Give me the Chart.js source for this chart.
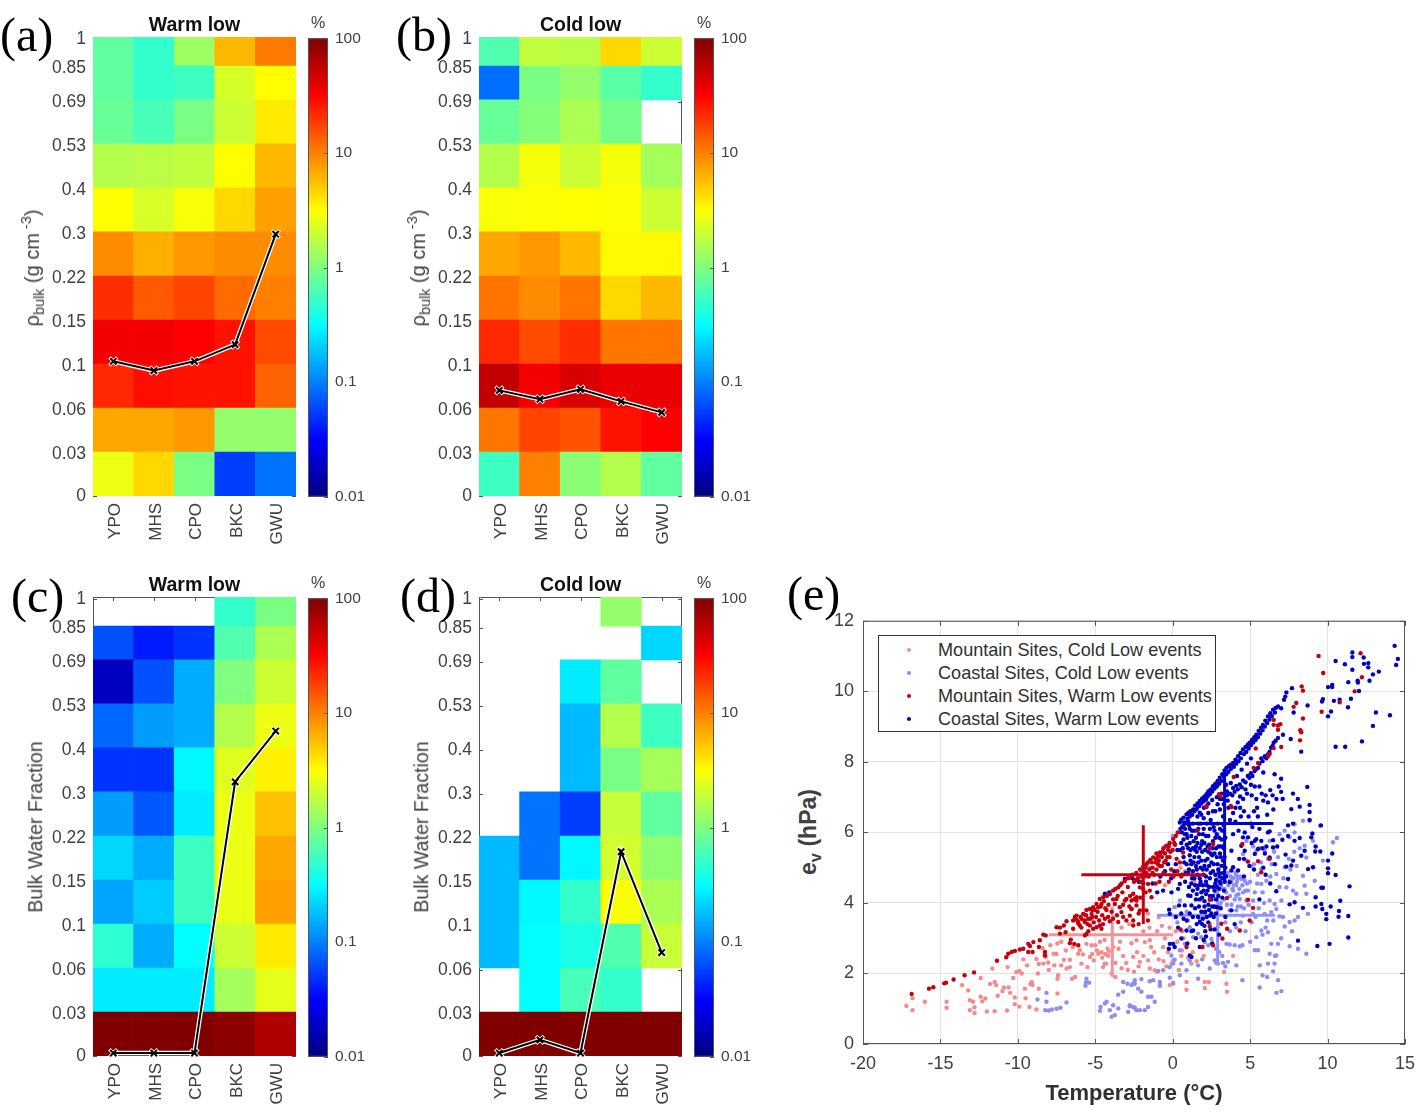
<!DOCTYPE html>
<html>
<head>
<meta charset="utf-8">
<title>Snow density and water fraction</title>
<script src="https://cdn.jsdelivr.net/npm/chart.js@4/dist/chart.umd.min.js"></script>
<style>
  html, body { margin: 0; padding: 0; background: #fff; }
  #page { position: relative; width: 1424px; height: 1112px; overflow: hidden; font-family: "Liberation Sans", sans-serif; color: #404040; }
  #page canvas { position: absolute; }
  .txt { position: absolute; white-space: nowrap; line-height: 1; }
  .panel { font-family: "Liberation Serif", serif; font-size: 48px; color: #000; }
  .rot { transform: translate(-50%, -50%) rotate(-90deg); }
  .txt sub, .txt sup { font-size: 72%; line-height: 0; }
  #legend { position: absolute; left: 878px; top: 635px; width: 336px; height: 95px; background: #fff; border: 1px solid #333; }
  #legend div { position: absolute; left: 59px; font-size: 18.1px; white-space: nowrap; color: #303030; line-height: 1; }
  #legend i { position: absolute; left: 28px; width: 4px; height: 4px; border-radius: 50%; }
</style>
</head>
<body>
<div id="page"></div>
<script>
// ------- categories and tick labels -------
const sites = ["YPO", "MHS", "CPO", "BKC", "GWU"];
const rowLabels = ["0", "0.03", "0.06", "0.1", "0.15", "0.22", "0.3", "0.4", "0.53", "0.69", "0.85", "1"];
const rowValues = [0, 0.03, 0.06, 0.1, 0.15, 0.22, 0.3, 0.4, 0.53, 0.69, 0.85, 1];
// the axis is not linear in the value, each tick sits at its own axis unit
const rowEdges = [0, 1, 2, 3, 4, 5, 6, 7, 8, 9, 9.77, 10.43];
const colorTicks = [0.01, 0.1, 1, 10, 100];
const tempTicks = [-20, -15, -10, -5, 0, 5, 10, 15];
const vaporTicks = [0, 2, 4, 6, 8, 10, 12];

// ------- percent per bin, top row (0.85-1) first, null = empty cell -------
const warmDensity = [
  [0.75, 0.5, 1.3, 6, 10.5],
  [0.75, 0.5, 0.55, 2.2, 3.2],
  [0.8, 0.6, 0.95, 2.0, 3.8],
  [1.6, 1.7, 1.8, 3.2, 6],
  [3.2, 2.2, 3.0, 4.5, 7.5],
  [9, 6.5, 8, 9, 9],
  [21, 14, 17, 12, 10],
  [35, 35, 32, 27, 16],
  [22, 28, 27, 27, 13],
  [7, 7, 8, 1.2, 1.2],
  [2.7, 4.5, 0.95, 0.055, 0.09],
];
const coldDensity = [
  [0.65, 1.8, 1.7, 4.5, 2],
  [0.085, 0.95, 1.2, 0.7, 0.5],
  [0.8, 1.05, 1.5, 0.9, null],
  [1.6, 2.9, 2, 2.9, 1.4],
  [3, 3.1, 3.2, 3.1, 2],
  [7, 8, 6, 3.3, 3.3],
  [11, 9, 11, 4.5, 6],
  [22, 16, 21, 11, 11],
  [55, 35, 45, 38, 38],
  [11, 17, 15, 27, 32],
  [0.55, 10, 1.1, 1.6, 0.75],
];
const warmWater = [
  [null, null, null, 0.5, 0.95],
  [0.065, 0.04, 0.05, 0.65, 1.5],
  [0.018, 0.065, 0.15, 1.0, 2],
  [0.08, 0.13, 0.15, 1.6, 2.7],
  [0.05, 0.05, 0.3, 2.4, 3.6],
  [0.13, 0.07, 0.27, 2.7, 5.5],
  [0.22, 0.15, 0.55, 2.7, 7],
  [0.14, 0.2, 0.55, 2.6, 7.5],
  [0.48, 0.15, 0.32, 2.0, 3.8],
  [0.27, 0.27, 0.27, 1.4, 2.5],
  [100, 100, 100, 90, 65],
];
const coldWater = [
  [null, null, null, 1.2, null],
  [null, null, null, null, 0.22],
  [null, null, 0.27, 0.75, null],
  [null, null, 0.17, 1.6, 0.55],
  [null, null, 0.17, 0.95, 1.4],
  [null, 0.09, 0.055, 1.9, 0.75],
  [0.17, 0.09, 0.3, 2.1, 1.15],
  [0.17, 0.3, 0.5, 3, 1.5],
  [0.17, 0.32, 0.4, 0.65, 1.9],
  [null, 0.32, 0.6, 0.5, null],
  [100, 100, 100, 100, 100],
];

// ------- median line per site -------
const warmDensityMedian = [0.103, 0.094, 0.103, 0.122, 0.296];
const coldDensityMedian = [0.076, 0.068, 0.077, 0.066, 0.057];
const warmWaterMedian = [0.002, 0.002, 0.002, 0.323, 0.45];
const coldWaterMedian = [0.002, 0.011, 0.002, 0.195, 0.074];

// ------- panel (e), [temperature, vapour pressure] -------
const mountainCold = [
  [-17.2,1.08],[-16.8,1.3],[-16.8,0.96],[-16,1.2],[-14.6,1.2],[-14.6,1.03],[-13.6,1.67],[-13.2,1.52],[-13.1,1.24],[-12.9,1.2],
  [-12.8,1.04],[-13.1,0.96],[-12.8,0.88],[-12.4,1.87],[-12.4,1.34],[-12.3,1.21],[-12.1,1.29],[-11.8,1.7],[-11.5,1.76],[-11.4,1.67],
  [-10.9,1.6],[-10.6,1.6],[-11,1.5],[-11.3,1.37],[-10.5,1.45],[-10.2,1.32],[-10.2,1.13],[-9.9,1.06],[-12,0.92],[-11.5,0.93],
  [-10.7,0.95],[-11.65,2.14],[-10.66,2.18],[-10.1,2.04],[-9.9,2.07],[-9.75,2],[-10.3,1.87],[-9.65,2.4],[-9.4,2.23],[-9.55,1.57],
  [-9.2,1.7],[-9.1,1.76],[-9.05,1.67],[-8.65,1.57],[-8.7,2],[-8.65,2.27],[-8.8,2.41],[-9.5,1.3],[-9.25,1.05],[-8.8,0.98],
  [-8.26,2.56],[-8.2,2.47],[-7.7,2.56],[-7.5,2.55],[-8.36,2.28],[-8.04,2.31],[-7.65,2.23],[-7.2,2.23],[-6.86,2.14],[-6.64,2.18],
  [-6.64,2.39],[-7.03,2.39],[-7.4,1.95],[-7.44,1.85],[-7.44,1.43],[-6.5,1.85],[-6.3,1.9],[-6,2.66],[-6.1,2.56],[-5.8,2.54],
  [-5.35,2.47],[-5.57,2.84],[-5.24,2.8],[-4.8,2.56],[-5.1,2.37],[-4.4,2.28],[-4.17,2.5],[-4.5,2.18],[-3.95,2],[-4.3,2.28],
  [-5.9,2.28],[-5.5,2.18],[-7.45,2.85],[-7.2,2.9],[-6.45,2.75],[-2.66,2.86],[-2.34,2.94],[-1.8,2.89],[-1.48,2.94],[-2.55,2.47],
  [-1.9,2.5],[-1.59,2.37],[-2.12,2.33],[-1.16,2.09],[-1.48,2.14],[-0.08,2.28],[0.56,2.5],[0.03,2.37],[1.2,2.28],[-0.62,2.75],
  [0.89,1.76],[0.89,1.54],[2.07,1.76],[2.33,1.76],[2.07,1.59],[3.47,1.71],[3.51,1.48],[3.32,2.04],[-0.83,1.64],[-0.19,1.67],
  [0.03,1.71],[3.9,2.5],[-3.3,3.3],[-2.8,3.4],[-1.5,3.3],[-1,3.2],[-0.5,3],[-2.3,2.6],[-3,2.3],[-3.5,2.7],
  [-4.2,2.7],[-4.6,2.6],[-5,2.8],[-3.7,2.3],[-3.7,1.9],[-3.2,2.5],[-2.9,2.1],[-1.2,2.6],[-0.9,2.4],[-0.3,2.6],
  [0.3,2.9],[0.7,3],[1.3,2.6],[-1.9,3.2],[-0.9,3.6],[-1.6,3.7],[0.5,5],[0.8,4.9],[0.7,5.3],[-0.5,4.5],
  [-0.2,3.3],[0.2,3.2],[-3.4,2.9],[-4.4,2.95],[-6.9,2.65],[-8.4,2.72],[-7.9,2.8],[-8,2.1],[1,3.5],[1.4,4.6],
  [-4.9,2.65],[-4.55,2.45],[-4.35,2.55],[-4.1,2.62],[-3.85,2.75],[-5.2,2.55],[-4.7,2.9],[-3.3,2.15],[-2.5,2.05],[-2.2,2.2],
  [-1,2.05],[-0.6,2.35],[-0.4,2.2],[0.4,2.1],[0.6,2.65],[1,2.45],[1.55,2.35],[2,2.5],[-1.4,2.75],[-0.7,3.35],
];
const coastalCold = [
  [-8.73,1.26],[-8.15,1.45],[-8.23,0.96],[-8,0.95],[-7.8,0.98],[-7.5,1],[-7.25,1.03],[-6.86,1.18],[-5.57,1.85],[-5.6,1.75],
  [-5.4,1.74],[-5.63,1.65],[-8.15,1.2],[-4.7,0.94],[-4.66,1.05],[-4.38,1.15],[-4.27,1.2],[-4.06,0.96],[-3.95,0.77],[-3.74,0.82],
  [-3.52,1.01],[-3.85,1.1],[-3.52,1.4],[-3.2,1.48],[-2.88,0.91],[-2.77,1.07],[-2.45,1.03],[-2.34,0.96],[-3.2,1.76],[-2.92,1.71],
  [-2.66,1.67],[-2.45,1.81],[-2.23,1.57],[-2.45,1.71],[-2.55,1.72],[-2.02,1.48],[-1.59,1.34],[-1.37,1.34],[-1.16,1.2],[-1.59,1.05],
  [-1.8,0.96],[-2.12,0.96],[-2.55,1.05],[-2.77,1.1],[-2.02,1.84],[-1.48,1.78],[-1.26,1.81],[-0.83,1.76],[-0.83,1.67],[-0.19,1.88],
  [0.03,1.73],[0.46,1.95],[1.64,1.85],[0.89,2.09],[-0.62,2.09],[-0.94,2.07],[-0.19,2.18],[0.03,2.28],[0.56,2.28],[1.1,2.37],
  [1.64,2.23],[2.39,2.14],[2.93,2.28],[3.25,2.3],[3.57,2.33],[4.11,2.23],[4.5,1.81],[5.62,1.6],[6.8,1.81],[6.7,1.45],
  [7.02,1.5],[6.48,2.06],[6.58,2.28],[6.26,2.56],[6.69,2.51],[6.8,2.84],[6.37,2.84],[6.15,2.28],[5.62,2.23],[5.51,2.66],
  [5.3,2.66],[5.4,3.03],[5.72,3.22],[6.15,3.17],[6.9,3.62],[7.12,3.6],[7.23,3.33],[7.55,3.46],[8.09,3.6],[7.87,3.5],
  [8.63,2.56],[8.09,2.7],[7.55,2.77],[8.73,3.69],[5.94,3.69],[5.19,3.69],[4.54,3.64],[4.11,3.79],[3.47,2.84],[3.68,2.82],
  [4,2.8],[4.33,2.77],[2.82,2.3],[2.71,2.37],[1.64,3.13],[1.85,3.03],[2.5,2.98],[2.07,2.89],[1.32,3.03],[0.78,2.84],
  [0.46,2.66],[0.13,2.39],[-0.08,2.51],[3.14,4.45],[3.36,4.4],[3.68,4.63],[4.11,4.77],[4.43,4.68],[4.65,4.63],[4.86,4.35],
  [3.9,4.35],[4.11,4.21],[4.33,4.11],[4.76,4.07],[5.19,4.07],[5.72,4.54],[6.05,4.63],[6.26,4.07],[6.58,3.97],[6.69,3.83],
  [6.37,3.74],[3.68,3.79],[3.04,3.88],[2.71,3.88],[1.75,3.55],[1.1,3.31],[0.46,4.07],[0.13,3.88],[4.76,5.2],[4.54,5.39],
  [5.94,5.48],[6.26,5.76],[6.9,5.95],[7.23,6.05],[7.55,5.86],[7.87,6],[7.87,6.23],[8.41,6.33],[8.84,6.33],[9.06,5.76],
  [8.52,5.62],[8.63,5.29],[9.7,5.2],[10.35,5.72],[10.6,5.84],[9.53,6.19],[7.23,5.01],[8.41,4.77],[8.52,4.49],[9.17,4.63],
  [7.34,4.44],[7.77,4.35],[7.98,4.26],[8.63,4.26],[7.02,4.07],[5.72,4.96],[5.4,5.48],[4.76,5.76],[6.69,4.82],[6.15,5.25],
  [3.6,4.5],[3.8,4.6],[3.9,4.7],[4.1,4.5],[4.2,4.7],[4.3,4.4],[4.5,4.5],[3.7,4.2],[4,4.1],[4.4,3.9],
  [5,4.6],[5.3,4.3],[5.5,4.8],[5.8,4.3],[3.3,4.1],[3.1,4],[3,4.6],[2.8,4.3],[-1,5.3],[-0.5,5.6],
  [0,5.9],[-1.5,5],[-2,4.9],[0.3,6],[-0.2,5.7],[2.3,2.8],[2.8,2.7],[3,2.6],[3.2,2.5],[3.4,2.2],
  [1.9,2.4],[4.5,2.8],[5,2.9],[6,3.3],[5.8,3.1],[6.5,3.5],[7,3],[7.7,3.2],[6.1,1.9],[5.8,1.95],
  [6.6,2.5],[3.55,4.85],[3.85,4.4],[4.05,4.85],[4.25,4.25],[4.7,4.35],[5.05,5.05],[5.6,5.55],[6.4,5.1],[7.5,5.25],
  [3.45,4.3],[3.75,4.75],[3.95,4.5],[4.15,4.6],[4.35,4.75],[4.55,4.3],[4.8,4.55],[3.5,3.95],[3.8,3.95],[4.2,3.9],
  [4.6,3.85],[4.9,3.95],[5.1,3.45],[5.35,3.6],[5.55,3.85],[5.9,4],[6.1,3.5],[3.4,3.45],[3.7,3.2],[4.1,3.3],
  [4.4,3.45],[4.7,3.2],[2.9,3.3],[2.4,3.4],[0.9,3.75],[0.3,3.45],[0.6,3.2],[5.2,5.6],[5.7,5.15],[6.55,5.45],
  [7.15,4.7],[6.9,4.45],[7.6,4.95],[8,5.05],[7.85,5.45],[8.2,5.55],[6.8,5.3],[5.25,5.1],[5.45,4.55],[6.3,4.75],
];
const coastalWarm = [
  [14.33,11.29],[14.54,10.92],[14.43,10.75],[11.6,11.1],[11.6,10.97],[10.52,10.86],[11.12,10.77],[12.33,10.96],[12.35,10.78],[12.63,10.8],
  [12.63,10.68],[11.6,10.61],[13.31,10.56],[12.93,10.48],[12.71,10.3],[11.94,10.3],[11.96,10.25],[11.34,10.26],[10.3,10.18],[10.3,10.12],
  [10.03,10.12],[12.03,10.01],[11.51,9.79],[9.7,9.78],[9.64,9.71],[10.41,9.73],[10.78,9.76],[11.32,9.55],[10.22,9.43],[10.03,9.29],
  [13.12,9.4],[14.03,9.32],[12.93,9.02],[12.22,8.58],[10.52,8.43],[11.14,8.43],[8.3,8.29],[7.62,8.65],[8.71,9.6],[7.81,9.4],
  [7.7,10.09],[7.34,9.97],[7.27,9.85],[7.19,9.76],[0.46,6.28],[0.55,6.36],[0.7,6.42],[0.89,6.51],[1.02,6.56],[1.15,6.6],
  [1.32,6.65],[1.45,6.76],[1.6,6.82],[1.75,6.89],[1.9,6.96],[2.05,7.02],[2.18,7.08],[2.3,7.16],[2.45,7.22],[2.6,7.31],
  [2.75,7.38],[2.9,7.46],[3.04,7.55],[3.2,7.65],[3.35,7.76],[3.47,7.83],[3.62,7.88],[3.75,7.92],[3.9,7.97],[4.05,8.06],
  [4.22,8.16],[4.38,8.25],[4.54,8.35],[4.7,8.42],[4.85,8.49],[4.97,8.54],[5.12,8.62],[5.27,8.7],[5.4,8.77],[5.55,8.88],
  [5.7,8.97],[5.83,9.05],[5.98,9.17],[6.15,9.29],[6.3,9.38],[6.48,9.48],[6.65,9.53],[6.8,9.57],[7,9.52],[1.75,6.56],
  [2.02,6.7],[2.3,6.82],[2.55,6.92],[2.85,7],[3.15,7.1],[3.5,7.16],[3.9,7.26],[4.1,7.32],[4.33,7.36],[4.55,7.47],
  [4.85,7.6],[5.05,7.68],[5.29,7.74],[5.51,7.83],[5.72,8.1],[5.95,8.16],[6.15,8.21],[6.35,8.4],[6.52,8.54],[6.8,8.68],
  [7.12,8.77],[5.85,7.7],[6.58,7.65],[7,7.52],[5.6,7.3],[5.75,7.1],[5.85,6.9],[6,7.05],[6.15,6.85],[6.3,7.2],
  [6.45,7.05],[6.7,6.95],[6.85,7.3],[7,7.15],[7.1,6.95],[5.45,6.7],[6.5,6.65],[6.1,6.5],[5.5,6.45],[5.25,6.6],
  [7.77,7.1],[8.69,7.29],[8.08,6.95],[8.84,6.78],[4.8,7.1],[4.55,6.95],[3.85,7.05],[4.2,6.85],[3.6,6.7],[3.9,6.55],
  [11.42,4.47],[10.82,4.06],[11.34,3.63],[11.34,3.02],[10.74,3.77],[10.71,3.61],[10.2,3.9],[10.52,4.79],[10.03,4.84],[10.03,4.98],
  [10.03,5.2],[10.3,5.4],[9.53,5.46],[9.57,6.2],[9.23,5.6],[9.2,5.46],[9.06,5.01],[8.74,4.96],[9.7,4.43],[9.6,4.43],
  [9.23,4.16],[9.23,3.9],[9.6,3.97],[9.66,3.83],[9.92,3.69],[9.92,3.54],[8.41,3.86],[10.13,2.84],[9.34,2.78],[8.09,2.93],
  [7.87,4.02],[7.55,3.96],[7.45,4.68],[7.66,5.06],[7.77,5.2],[7.29,5.37],[7.34,5.03],[8.3,5.34],[8.52,5.48],[8.95,5.86],
  [9.02,5.97],[8.2,5.84],[7.87,5.76],[7.45,5.9],[7.08,5.79],[7.77,6.25],[7.45,6.2],[8.2,6.73],[8.84,6.58],[8.84,6.35],
  [7.66,6.66],[6.69,4.33],[6.48,5.57],[6.26,5.29],[6.48,5.78],[6.15,6],[6.26,6.03],[5.4,5.81],[5.72,5.76],[5.3,5.76],
  [5.51,5.53],[5.3,5.39],[4.65,6],[4.86,5.86],[4.54,5.86],[4.43,5.62],[4.65,5.48],[3.9,5.95],[3.79,5.48],[4.22,4.92],
  [3.79,4.92],[3.9,5.01],[3.68,4.59],[3.36,4.6],[3.04,4.75],[3.79,3.79],[2.86,3.88],[2.43,3.64],[2.07,3.74],[1.64,3.6],
  [1.75,3.46],[1.32,3.22],[1.21,3.2],[0.89,3.22],[0.56,2.99],[0.03,2.84],[0.13,2.75],[-0.19,2.84],[-0.25,2.7],[1.1,2.51],
  [1.21,2.47],[-0.19,3.69],[-0.23,3.81],[0.41,3.93],[0.78,3.93],[1.21,3.93],[-0.62,4.35],[-0.08,4.3],[0.46,4.54],[1,4.21],
  [0.5,6.1],[0.6,6],[0.7,6.2],[0.8,6.1],[0.9,5.95],[1,6.3],[1.1,6.1],[1.2,5.9],[1.3,6.25],[1.4,6.05],
  [1.5,5.85],[0.7,5.8],[0.9,5.65],[1.1,5.7],[1.3,5.55],[1.5,5.6],[1.7,5.95],[1.8,6.25],[1.9,5.75],[2,6.1],
  [2.1,5.5],[2.2,6.25],[2.3,5.9],[2.5,6.25],[2.6,5.75],[2.7,6.05],[2.8,5.55],[2.9,6.25],[3,5.85],[3.1,5.6],
  [3.2,6.05],[0.5,5.5],[0.7,5.3],[0.9,5.1],[1.1,5.35],[1.2,5.1],[1.3,4.9],[1.4,5.3],[1.5,5.05],[1.6,4.8],
  [1.7,5.3],[1.8,5],[1.9,5.45],[2,4.8],[2.1,5.2],[2.2,4.95],[2.3,5.45],[2.4,4.7],[2.5,5.15],[2.6,4.9],
  [2.7,5.4],[2.8,4.65],[2.9,5.1],[3,4.85],[3.1,5.3],[3.2,4.7],[3.3,5.55],[3.4,5],[0.6,4.8],[0.8,4.6],
  [1,4.85],[1.2,4.55],[1.4,4.7],[1.6,4.4],[1.8,4.6],[2,4.35],[2.2,4.5],[2.4,4.2],[2.6,4.45],[2.8,4.1],
  [3,4.4],[3.2,4.15],[1.5,4.1],[1.7,3.9],[1.9,4.15],[2.1,3.75],[2.3,3.95],[2.5,3.7],[2.7,3.9],[1.9,3.4],
  [2.1,3.2],[2.3,3.45],[2,2.95],[-3.09,4.68],[-2.8,4.72],[-4.38,4.26],[-4.1,4.3],[-1,4.3],[-0.8,4.75],[-0.5,4.9],
  [-0.3,5.1],[-1.3,4.55],[-2.2,4.6],[-1.9,4.55],[-2.6,4.7],[-0.1,4.7],[0.2,5.1],[0.3,5.5],[0.1,4.9],[0.35,4.4],
  [2.55,5.55],[2.85,5.95],[1.65,6.1],[1.15,5.5],[1.85,5.65],[2.35,5.65],[3.05,6.1],[1.05,4.95],[1.55,5.45],[2.15,4.6],
  [2.75,4.55],[3.25,5.2],[3.45,4.75],[4.25,6.05],[4.95,5.05],[5.25,4.95],[5.85,5],[5.95,5.4],[6.3,4.55],[4.6,5.25],
  // upper edge is two thick bands of dots
  [0.6,6.15],[0.75,6.28],[0.95,6.38],[1.1,6.45],[1.25,6.5],[1.4,6.6],[1.55,6.66],[1.7,6.74],[1.85,6.82],[2,6.88],
  [2.15,6.93],[2.25,7.02],[2.4,7.08],[2.55,7.16],[2.7,7.24],[2.85,7.3],[3,7.38],[3.15,7.46],[3.3,7.58],[3.45,7.65],
  [3.6,7.72],[3.75,7.8],[3.95,7.86],[4.1,7.95],[4.25,8.02],[4.4,8.1],[4.6,8.22],[4.75,8.28],[4.9,8.38],[5.05,8.47],
  [5.2,8.55],[5.35,8.62],[5.5,8.7],[5.65,8.8],[5.8,8.9],[5.95,9],[6.1,9.1],[6.25,9.2],[6.4,9.3],[6.6,9.4],
  [2,6.4],[2.3,6.55],[2.6,6.6],[2.9,6.8],[3.2,6.95],[3.5,7.05],[3.7,7.1],[4,7.15],[4.2,7.22],[4.45,7.28],
  [4.7,7.42],[4.95,7.55],[5.15,7.6],[5.4,7.8],[5.6,7.95],[5.8,8.02],[6.05,8.1],[6.25,8.28],[6.45,8.45],[6.65,8.6],
  [1.6,6.45],[1.85,6.5],[2.45,6.35],[2.75,6.6],[3.05,6.65],[3.25,6.45],[3.55,6.9],[4.35,6.7],[4.6,6.6],[3,7],
  // dense middle of the warm low cloud
  [0.55,5.7],[0.65,5.55],[0.8,5.95],[0.95,5.85],[1.05,6.2],[1.25,6.05],[1.35,5.75],[1.45,5.5],[1.6,5.7],[1.65,6.25],
  [1.75,5.55],[1.95,5.95],[2.05,5.7],[2.15,5.9],[2.25,5.6],[2.4,6.1],[2.45,5.4],[2.65,6.15],[2.75,5.85],[2.95,5.6],
  [3.05,5.4],[3.15,5.8],[3.25,5.6],[3.4,5.85],[3.3,6.2],[0.75,5.15],[0.85,4.85],[1,5.55],[1.15,5.2],[1.25,4.7],
  [1.35,5.15],[1.55,4.95],[1.65,5.15],[1.75,4.7],[1.85,5.2],[1.95,4.95],[2.05,5.05],[2.15,4.75],[2.25,5.25],[2.35,5.05],
  [2.45,4.85],[2.55,5.35],[2.65,5.1],[2.75,4.8],[2.85,5.3],[2.95,4.95],[3.05,4.6],[3.15,5.05],[3.25,4.85],[3.35,5.3],
  [1.05,4.45],[1.15,4.2],[1.3,4.35],[1.45,4.5],[1.55,4.25],[1.7,4.5],[1.85,4.3],[1.95,4.5],[2.05,4.05],[2.15,4.25],
  [2.25,4.35],[2.35,4.45],[2.5,4.1],[2.6,4.2],[2.7,4.35],[2.85,4.45],[2.95,4.2],[3.1,4.55],[3.3,4.35],[1.75,4.1],
  [1.85,3.75],[1.95,3.55],[2.05,3.9],[2.2,3.6],[2.35,3.8],[2.55,3.9],[2.65,3.6],[2.05,3.35],[2.15,3.05],[2.45,3.25],
  [1.3,3.6],[0.9,3.5],[0.35,3.3],[2.8,3.7],[3.1,3.85],[3.4,3.6],[4,3.4],[4.6,4.75],[5.6,4.1],[4.3,5.25],
  [5.1,5.7],[5.6,6.1],[5.8,5.55],[6.05,5.6],[6,4.8],[6.6,5.1],[6.75,5.6],[5.05,6.25],[4.9,6.45],[5.15,6.15],
  [4.35,7.02],[4.7,7.22],[5.05,7.35],[5.3,7.3],[5.1,7.05],[5.4,6.95],[3.75,7.4],[4.15,7.6],[4.45,7.78],[4.8,7.95],
  [5.05,8.1],[3.45,7.35],[3.05,6.95],[3.3,6.8],[4.05,6.7],[3.7,6.35],[4.05,6.3],[4.4,6.45],[0.7,3.55],[1.55,3.4],
  [0.95,2.85],[1.5,3],[1.75,2.75],[2.55,2.85],[2.7,3.25],[3,3.1],[1.1,3.7],[1.45,3.85],[0.2,3.6],[0.55,3.7],
];
const mountainWarm = [
  [-16.86,1.42],[-15.74,1.57],[-15.46,1.61],[-14.75,1.72],[-14.64,1.74],[-14.15,1.83],[-13.44,1.95],[-12.83,2.03],[-11.35,2.36],[-10.75,2.46],
  [-10.62,2.56],[-10.4,2.61],[-10.19,2.64],[-9.87,2.68],[-9.65,2.7],[-9.33,2.61],[-9.05,2.61],[-9.33,2.84],[-9,2.89],[-9.22,2.78],
  [-8.64,2.75],[-8.58,2.94],[-8.36,3.1],[-8.2,3.08],[-7.5,3.31],[-7.28,3.3],[-7.03,3.36],[-6.86,3.48],[-7.28,3.13],[-6.92,3.17],
  [-6.43,3.27],[-6.58,2.96],[-6.36,2.84],[-6.1,2.8],[-6.64,2.86],[-8.25,2.51],[-8.25,2.61],[-5.67,3.08],[-5.57,3.12],[-6.32,3.6],
  [-6.21,3.64],[-6.43,3.5],[-6.1,3.46],[-5.89,3.55],[-6,3.36],[-5.78,3.69],[-5.57,3.8],[-5.35,3.83],[-5.14,3.88],[-4.92,3.97],
  [-4.71,4.11],[-4.49,4.16],[-5.67,3.46],[-5.46,3.55],[-5.24,3.69],[-5.03,3.8],[-4.81,3.88],[-4.6,3.97],[-5.35,3.36],[-5.14,3.27],
  [-4.92,3.31],[-4.71,3.36],[-4.38,3.55],[-4.17,3.6],[-4.06,3.48],[-4.28,3.8],[-4.6,3.27],[-3.85,4.35],[-3.52,4.44],[-3.63,4.11],
  [-3.74,3.97],[-3.42,3.88],[-3.31,3.74],[-3.09,4.07],[-2.99,4.11],[-3.52,3.46],[-2.99,3.5],[-2.77,3.64],[-2.66,3.83],[-2.34,4.16],
  [-2.34,3.93],[-2.2,3.7],[-2.55,3.36],[-3.3,4.55],[-3.1,4.62],[-2.9,4.7],[-2.77,4.73],[-2.6,4.8],[-2.35,4.85],[-2.1,4.95],
  [-1.9,5.03],[-1.7,5.1],[-1.45,5.22],[-1.26,5.29],[-1.05,5.4],[-0.83,5.43],[-0.6,5.55],[-0.4,5.62],[-0.2,5.7],[0.03,5.81],
  [0.2,5.9],[0.35,6],[-2.55,4.26],[-2.45,4.11],[-2.12,4.44],[-1.91,4.4],[-1.59,4.54],[-1.48,4.35],[-2.66,4.07],[-2.34,4.07],
  [-2.12,3.79],[-2.66,3.83],[-1.37,4.16],[-2.55,3.5],[-1.7,3.79],[-2,4.75],[-1.7,4.85],[-1.5,4.95],[-1.3,5],[-1.1,5.15],
  [-0.9,5.2],[-0.7,5.3],[-0.5,5.4],[-0.3,5.5],[-1.1,5.25],[-0.8,5.35],[-0.95,5.1],[-1.2,4.8],[-0.7,5.05],[-0.45,5.2],
  [-0.6,4.85],[-0.2,5.3],[0,5.5],[0.15,5.65],[-1.6,5.15],[-1.85,4.9],[-2.25,4.7],[-2.5,4.6],[0.3,4.9],[0.55,4.75],
  [-0.1,4.95],[0.25,5.25],[3.79,6.72],[2.18,6.75],[4.86,5.17],[5.51,5.18],[5.72,4.87],[6.26,5.25],[4.5,5.67],[2.39,4.09],
  [3.51,4.14],[4.86,4.09],[5.19,3.86],[4.97,3.5],[3.14,3.41],[3.51,3.27],[4.33,3.22],[2.39,3.33],[0.5,3.25],[3.21,2.99],
  [2.61,2.8],[1.92,2.75],[0.89,2.75],[0.46,5.15],[0.67,5.43],[2.61,5.67],[2.4,5.55],[9.42,11],[12.13,11.08],[9.72,10.52],
  [12.22,10.4],[11.75,10],[8.33,10.14],[8.41,10.02],[10.78,9.69],[9.62,9.42],[7.98,9.67],[7.81,9.56],[8.41,9.23],[8.24,8.9],
  [8.3,8.84],[8.22,8.61],[6.8,9.03],[6.95,9.07],[6.52,9.19],[6.52,9.05],[6.8,8.91],[7.01,8.42],[6.52,8.39],[6.26,8.22],
  [6.15,8.16],[5.36,8.38],[5.51,7.97],[5.23,7.83],[3.94,7.57],[2.99,7.08],[3.08,7.03],[3.75,6.75],[2.18,6.72],[1.6,6.05],
  // blob at the low end of the saturation edge
  [-6.1,3.42],[-5.95,3.6],[-5.7,3.5],[-5.6,3.65],[-5.5,3.4],[-5.3,3.55],[-5.2,3.8],[-5.1,3.45],[-4.95,3.6],[-4.85,3.75],
  [-4.75,3.5],[-4.65,3.9],[-4.55,3.65],[-4.45,4.05],[-4.35,3.85],[-4.25,4.2],[-4.15,3.95],[-4.05,4.25],[-3.95,3.75],[-3.85,4.1],
  [-3.7,4.4],[-3.55,4.2],[-3.4,4.5],[-3.25,4.3],[-3.2,3.95],[-2.9,4.45],[-2.75,4.2],[-3.2,3.6],[-2.8,3.9],[-6.2,3.52],
  [-5.9,3.3],[-5.45,3.2],[-5.2,3.6],[-4.5,3.4],[-3.6,3.65],[-3.85,3.55],[-2.4,4.65],[-2.05,4.6],[-1.8,4.75],[-1.55,4.75],
  [-1.3,4.85],[-1.05,4.95],[-0.85,5.05],[-0.55,5.15],[-0.35,5.3],[-0.15,5.45],[-1.75,5],[-1.35,5.15],[-0.95,5.3],[-0.65,5.45],
  [-0.25,5.6],[0.1,5.7],[-1.1,4.55],[-0.85,4.6],[-0.25,4.6],[0.05,4.75],[-2.1,4.15],[-1.75,4.3],[-2.2,3.4],[-1.6,3.5],
];

// mean and spread crosses [mean T, low T, high T, mean e, low e, high e]
const crossMountainCold = [-3.9, -8, 0, 3.1, 1.9, 3.9];
const crossCoastalCold = [2.9, -1, 6.6, 3.65, 2.25, 5];
const crossMountainWarm = [-1.9, -5.9, 2.1, 4.8, 3.4, 6.2];
const crossCoastalWarm = [3.35, 0.8, 6.5, 6.25, 4.6, 7.8];

const legendLabels = ["Mountain Sites, Cold Low events", "Coastal Sites, Cold Low events", "Mountain Sites, Warm Low events", "Coastal Sites, Warm Low events"];
const seriesColors = ["#f58a8c", "#8c8cf2", "#c4000c", "#0000c0"];

const grayText = "#404040";
const page = document.getElementById("page");

// ------- jet colormap on the log10 range 0.01 - 100 -------
function jetAt(t) {
  const part = (c) => Math.round(255 * Math.min(1, Math.max(0, 1.5 - Math.abs(4 * t - c))));
  return `rgb(${part(3)},${part(2)},${part(1)})`;
}
function percentColor(v) {
  return v === null ? "rgba(0,0,0,0)" : jetAt((Math.log10(v) + 2) / 4);
}

// bin value -> axis unit
function toAxis(v) {
  for (let i = 0; i < rowValues.length - 1; i++) {
    if (v <= rowValues[i + 1]) {
      return rowEdges[i] + ((v - rowValues[i]) / (rowValues[i + 1] - rowValues[i])) * (rowEdges[i + 1] - rowEdges[i]);
    }
  }
  return rowEdges[rowEdges.length - 1];
}

function addCanvas(left, top, width, height) {
  const c = document.createElement("canvas");
  c.width = width;
  c.height = height;
  c.style.left = left + "px";
  c.style.top = top + "px";
  c.style.width = width + "px";
  c.style.height = height + "px";
  page.appendChild(c);
  return c;
}

function addText(html, cls, left, top, size, extra) {
  const d = document.createElement("div");
  d.className = "txt " + cls;
  d.innerHTML = html;
  d.style.left = left + "px";
  d.style.top = top + "px";
  if (size) d.style.fontSize = size + "px";
  if (extra) d.style.cssText += extra;
  page.appendChild(d);
}

function drawFrame(chart, tickLen, sides) {
  const { ctx, chartArea: a, scales } = chart;
  ctx.save();
  ctx.strokeStyle = "#555";
  ctx.lineWidth = 1;
  ctx.strokeRect(a.left + 0.5, a.top + 0.5, a.right - a.left - 1, a.bottom - a.top - 1);
  ctx.beginPath();
  if (sides.includes("x")) {
    scales.x.ticks.forEach((t, i) => {
      const px = Math.round(scales.x.getPixelForTick(i)) + 0.5;
      ctx.moveTo(px, a.top);
      ctx.lineTo(px, a.top + tickLen);
      ctx.moveTo(px, a.bottom);
      ctx.lineTo(px, a.bottom - tickLen);
    });
  }
  if (sides.includes("y")) {
    scales.y.ticks.forEach((t, i) => {
      const py = Math.round(scales.y.getPixelForTick(i)) + 0.5;
      ctx.moveTo(a.right, py);
      ctx.lineTo(a.right - tickLen, py);
      if (sides.includes("l")) {
        ctx.moveTo(a.left, py);
        ctx.lineTo(a.left + tickLen, py);
      }
    });
  }
  ctx.stroke();
  ctx.restore();
}

const frameUnder = { id: "frameUnder", beforeDatasetsDraw: (chart) => drawFrame(chart, 4, "xyl") };
const frameOver = { id: "frameOver", afterDatasetsDraw: (chart) => drawFrame(chart, 4, "y") };

// ------- one heatmap panel + its colorbar -------
function heatPanel(dx, dy, titleText, grid, medians) {
  const rows = grid.slice().reverse();
  const datasets = rows.map((vals, r) => ({
    data: vals.map((v) => (v === null ? null : [rowEdges[r], rowEdges[r + 1]])),
    backgroundColor: vals.map(percentColor),
    borderWidth: 0,
    barPercentage: 1,
    categoryPercentage: 1,
    order: 3,
  }));
  const medianPos = medians.map(toAxis);
  datasets.push({
    type: "line", data: medianPos, borderColor: "#fff", borderWidth: 4.5,
    pointStyle: "crossRot", pointRadius: 5.5, pointBorderColor: "#fff", pointBorderWidth: 3.5,
    pointBackgroundColor: "#fff", tension: 0, order: 2, clip: false,
  });
  datasets.push({
    type: "line", data: medianPos, borderColor: "#000", borderWidth: 2,
    pointStyle: "crossRot", pointRadius: 4.5, pointBorderColor: "#000", pointBorderWidth: 2,
    tension: 0, order: 1, clip: false,
  });

  new Chart(addCanvas(40 + dx, 9 + dy, 309, 547), {
    type: "bar",
    data: { labels: sites, datasets },
    options: {
      responsive: false,
      animation: false,
      layout: { padding: { left: 0, right: 53, top: 0, bottom: 0 } },
      plugins: {
        legend: { display: false },
        tooltip: { enabled: false },
        title: {
          display: true, text: titleText, color: "#111", fullSize: false,
          font: { family: "Liberation Sans", size: 19.5, weight: "bold", lineHeight: 1 },
          padding: { top: 6.5, bottom: 2 },
        },
      },
      scales: {
        x: {
          stacked: true,
          grid: { display: false, drawTicks: false },
          border: { display: false },
          ticks: { minRotation: 90, maxRotation: 90, padding: 7, labelOffset: 2, color: grayText, font: { family: "Liberation Sans", size: 17 } },
          afterFit: (s) => { s.height = 60; },
        },
        y: {
          min: 0,
          max: rowEdges[rowEdges.length - 1],
          grid: { display: false, drawTicks: false },
          border: { display: false },
          // labels sit about 2px under the cell edge in the original
          afterBuildTicks: (s) => { s.ticks = rowEdges.map((v) => ({ value: v > 0 ? v - 0.045 : 0 })); },
          ticks: { autoSkip: false, padding: 7, color: grayText, font: { family: "Liberation Sans", size: 17.5 }, callback: (v, i) => rowLabels[i] },
          afterFit: (s) => { s.width = 53; },
        },
      },
    },
    plugins: [frameUnder],
  });

  // colorbar
  new Chart(addCanvas(300 + dx, 22 + dy, 84, 491), {
    type: "bar",
    data: {
      labels: [""],
      datasets: [{
        data: [[colorTicks[0], colorTicks[colorTicks.length - 1]]],
        barPercentage: 1,
        categoryPercentage: 1,
        borderWidth: 0,
        backgroundColor: (c) => {
          const a = c.chart.chartArea;
          if (!a) return "#fff";
          const g = c.chart.ctx.createLinearGradient(0, a.bottom, 0, a.top);
          for (let i = 0; i <= 40; i++) g.addColorStop(i / 40, jetAt(i / 40));
          return g;
        },
      }],
    },
    options: {
      responsive: false,
      animation: false,
      layout: { padding: { left: 8, right: 0, top: 12, bottom: 14 } },
      plugins: { legend: { display: false }, tooltip: { enabled: false }, title: { display: false } },
      scales: {
        x: { display: false },
        y: {
          type: "logarithmic",
          position: "right",
          min: colorTicks[0],
          max: colorTicks[colorTicks.length - 1],
          grid: { display: false, drawTicks: false },
          border: { display: false },
          afterBuildTicks: (s) => { s.ticks = colorTicks.map((v) => ({ value: v })); },
          ticks: { autoSkip: false, padding: 7, color: grayText, font: { family: "Liberation Sans", size: 15.5 }, callback: (v) => String(v) },
          afterFit: (s) => { s.width = 56; },
        },
      },
    },
    plugins: [frameOver],
  });

  addText("%", "", 311 + dx, 15 + dy, 16);
}

heatPanel(0, 0, "Warm low", warmDensity, warmDensityMedian);
heatPanel(386, 0, "Cold low", coldDensity, coldDensityMedian);
heatPanel(0, 560, "Warm low", warmWater, warmWaterMedian);
heatPanel(386, 560, "Cold low", coldWater, coldWaterMedian);

// ------- axis labels that need sub/superscript are plain html -------
const rhoLabel = "&rho;<sub>bulk</sub> (g cm<sup> -3</sup>)";
addText(rhoLabel, "rot", 32, 268, 20);
addText(rhoLabel, "rot", 418, 268, 20);
addText("Bulk Water Fraction", "rot", 36, 827, 19.6);
addText("Bulk Water Fraction", "rot", 422, 827, 19.6);
addText("e<sub>v</sub> (hPa)", "rot", 808, 832, 23, "font-weight:bold;");

addText("(a)", "panel", 0, 11);
addText("(b)", "panel", 396, 11);
addText("(c)", "panel", 11, 572);
addText("(d)", "panel", 400, 572);
addText("(e)", "panel", 787, 570);

// ------- panel (e) -------
function crossArms(cross, color, order) {
  const [mx, x0, x1, my, y0, y1] = cross;
  const arm = (data) => ({ data, showLine: true, borderColor: color, borderWidth: 3, pointRadius: 0, order });
  return [arm([[x0, my], [x1, my]]), arm([[mx, y0], [mx, y1]])];
}
function dots(data, color, order) {
  return { data, backgroundColor: color, borderWidth: 0, pointRadius: 2.2, order };
}

new Chart(addCanvas(800, 601, 624, 511), {
  type: "scatter",
  data: {
    datasets: [
      dots(mountainCold, seriesColors[0], 8),
      ...crossArms(crossMountainCold, "#f89196", 7),
      dots(coastalCold, seriesColors[1], 6),
      ...crossArms(crossCoastalCold, "#9393f6", 5),
      dots(coastalWarm, seriesColors[3], 4),
      ...crossArms(crossCoastalWarm, "#0000c8", 3),
      dots(mountainWarm, seriesColors[2], 2),
      ...crossArms(crossMountainWarm, "#c4000c", 1),
    ],
  },
  options: {
    responsive: false,
    animation: false,
    layout: { padding: { left: 0, right: 18.5, top: 12, bottom: 0 } },
    plugins: { legend: { display: false }, tooltip: { enabled: false }, title: { display: false } },
    scales: {
      x: {
        type: "linear",
        min: tempTicks[0],
        max: tempTicks[tempTicks.length - 1],
        grid: { color: "#e4e4e4", drawTicks: false },
        border: { display: false },
        afterBuildTicks: (s) => { s.ticks = tempTicks.map((v) => ({ value: v })); },
        ticks: { padding: 9, color: grayText, font: { family: "Liberation Sans", size: 18 } },
        title: {
          display: true, text: "Temperature (°C)", color: "#303030",
          font: { family: "Liberation Sans", size: 22, weight: "bold" },
          padding: { top: 0, bottom: 5 },
        },
        afterFit: (s) => { s.height = 68; },
      },
      y: {
        min: vaporTicks[0],
        max: vaporTicks[vaporTicks.length - 1],
        grid: { color: "#e4e4e4", drawTicks: false },
        border: { display: false },
        afterBuildTicks: (s) => { s.ticks = vaporTicks.map((v) => ({ value: v })); },
        ticks: { padding: 9, color: grayText, font: { family: "Liberation Sans", size: 18 } },
        afterFit: (s) => { s.width = 63; },
      },
    },
  },
  plugins: [{ id: "frameE", beforeDatasetsDraw: (chart) => drawFrame(chart, 5, "xyl") }],
});

// ------- legend box -------
const legendEl = document.createElement("div");
legendEl.id = "legend";
legendLabels.forEach((label, i) => {
  const rowY = 14 + i * 23;
  legendEl.innerHTML += `<i style="top:${rowY - 2}px;background:${seriesColors[i]}"></i><div style="top:${rowY - 9}px">${label}</div>`;
});
page.appendChild(legendEl);
</script>
</body>
</html>
